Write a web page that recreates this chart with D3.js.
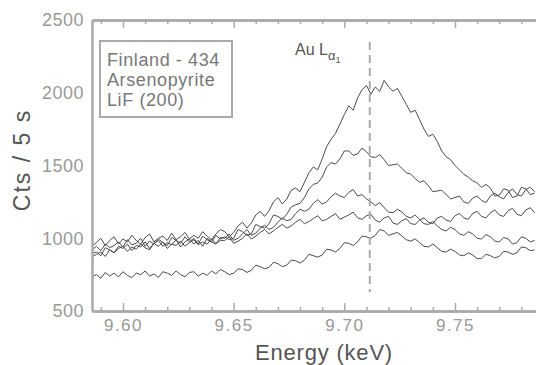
<!DOCTYPE html>
<head>
  <meta charset="utf-8" />
  <script src="https://cdn.jsdelivr.net/npm/d3@7/dist/d3.min.js"></script>
  <style>
    body { margin: 0; background: #fff; }
    svg text { font-family: "Liberation Sans", Arial, sans-serif; }
  </style>
</head>
<body>
  <svg class="chart" width="536" height="365"></svg>
  <script>
    // sampling grid (keV) and the five scans
    const eStart = 9.586;
    const eStep = 0.002;
    const scan1 = [945, 970, 1000, 950, 985, 1010, 960, 995, 975, 1020, 985, 960, 1005, 1030, 975, 1000, 1015, 985, 1035, 990, 1010, 1040, 995, 1020, 1000, 1045, 1015, 990, 1030, 1060, 1045, 1010, 1040, 1085, 1110, 1070, 1105, 1160, 1185, 1150, 1190, 1250, 1280, 1235, 1270, 1330, 1345, 1320, 1385, 1450, 1490, 1470, 1545, 1630, 1680, 1720, 1785, 1850, 1910, 1880, 1965, 2020, 2050, 1990, 2040, 2010, 2085, 2040, 2010, 2030, 1975, 1920, 1865, 1880, 1815, 1750, 1700, 1715, 1665, 1600, 1560, 1540, 1500, 1470, 1440, 1420, 1395, 1380, 1350, 1370, 1345, 1290, 1295, 1340, 1330, 1280, 1290, 1350, 1340, 1300, 1310];
    const scan2 = [920, 945, 915, 960, 935, 950, 975, 940, 990, 955, 965, 1000, 945, 980, 960, 995, 970, 950, 1005, 985, 965, 1010, 975, 1000, 960, 1015, 990, 975, 1020, 995, 1010, 990, 1000, 1060, 1045, 1020, 1030, 1095, 1080, 1070, 1100, 1160, 1150, 1130, 1165, 1215, 1230, 1240, 1280, 1340, 1370, 1380, 1420, 1490, 1520, 1510, 1545, 1600, 1600, 1570, 1580, 1620, 1595, 1560, 1555, 1575, 1540, 1500, 1505, 1510, 1480, 1450, 1440, 1410, 1385, 1395, 1360, 1320, 1325, 1330, 1300, 1270, 1280, 1290, 1250, 1240, 1275, 1290, 1260, 1245, 1290, 1310, 1285, 1270, 1315, 1340, 1300, 1290, 1335, 1350, 1320];
    const scan3 = [895, 905, 880, 935, 920, 900, 945, 930, 960, 915, 950, 940, 975, 930, 965, 985, 945, 970, 955, 990, 940, 975, 995, 960, 985, 945, 1000, 975, 960, 1005, 1000, 1030, 985, 1000, 1030, 1060, 1020, 1035, 1070, 1090, 1060, 1075, 1110, 1140, 1120, 1130, 1170, 1200, 1185, 1200, 1240, 1265, 1235, 1250, 1285, 1310, 1290, 1280, 1315, 1335, 1290, 1300, 1270, 1250, 1225, 1245, 1210, 1180, 1175, 1200, 1180, 1150, 1140, 1160, 1130, 1100, 1095, 1115, 1085, 1060, 1050, 1075, 1060, 1030, 1020, 1045, 1030, 1000, 995, 1025, 1010, 980, 975, 1005, 995, 960, 970, 1010, 1000, 975, 985];
    const scan4 = [870, 890, 905, 875, 920, 900, 930, 945, 910, 940, 925, 960, 935, 920, 965, 945, 975, 930, 960, 950, 980, 945, 970, 990, 955, 975, 960, 995, 965, 985, 985, 1010, 965, 980, 1000, 1030, 995, 1015, 1040, 1060, 1030, 1050, 1075, 1095, 1070, 1085, 1110, 1130, 1100, 1115, 1135, 1155, 1120, 1130, 1150, 1170, 1130, 1145, 1160, 1180, 1140, 1130, 1155, 1165, 1125, 1110, 1140, 1150, 1105, 1095, 1120, 1135, 1100, 1095, 1125, 1140, 1110, 1100, 1140, 1150, 1125, 1115, 1155, 1170, 1140, 1130, 1170, 1185, 1150, 1140, 1175, 1195, 1160, 1150, 1190, 1205, 1165, 1155, 1195, 1210, 1175];
    const scan5 = [735, 750, 725, 765, 740, 760, 735, 770, 745, 730, 760, 750, 775, 740, 755, 730, 770, 760, 745, 775, 750, 735, 765, 770, 740, 760, 745, 775, 755, 785, 770, 750, 760, 790, 785, 765, 780, 815, 805, 790, 800, 835, 825, 805, 815, 850, 845, 830, 850, 890, 880, 870, 885, 925, 920, 905, 930, 970, 965, 950, 975, 1015, 1010, 1000, 1020, 1060, 1050, 1020, 1030, 1040, 1015, 990, 980, 995, 970, 945, 940, 960, 935, 910, 905, 925, 910, 885, 880, 900, 885, 860, 860, 890, 880, 865, 875, 910, 905, 890, 900, 940, 935, 915, 920];
    const scans = [scan5, scan4, scan3, scan2, scan1];

    const xMajor = [9.60, 9.65, 9.70, 9.75];
    const xMinor = [9.59, 9.61, 9.62, 9.63, 9.64, 9.66, 9.67, 9.68, 9.69, 9.71, 9.72, 9.73, 9.74, 9.76, 9.77, 9.78];
    const yTicks = [500, 1000, 1500, 2000, 2500];
    const legendLines = ["Finland - 434", "Arsenopyrite", "LiF (200)"];
    const auLine = 9.7115;

    const svg = d3.select(".chart");
    const x = d3.scaleLinear().domain([9.586, 9.7866]).range([92, 536]);
    const y = d3.scaleLinear().domain([500, 2500]).range([311, 20]);
    const axisColor = "#aaa";
    const font = "Liberation Sans, Arial, sans-serif";

    // spectra
    const line = d3
      .line()
      .x((d, i) => x(eStart + i * eStep))
      .y((d) => y(d));
    svg
      .append("g")
      .selectAll("path")
      .data(scans)
      .enter()
      .append("path")
      .attr("d", line)
      .attr("fill", "none")
      .attr("stroke", "#4a4a4a")
      .attr("stroke-width", 1)
      .attr("stroke-linejoin", "round");

    // dashed Au L-alpha1 marker
    svg
      .append("line")
      .attr("x1", x(auLine))
      .attr("x2", x(auLine))
      .attr("y1", 42)
      .attr("y2", 292)
      .attr("stroke", "#aaa")
      .attr("stroke-width", 2)
      .attr("stroke-dasharray", "8,5");

    const label = svg.append("text").attr("x", 295).attr("y", 55).attr("fill", "#555").attr("font-size", 16);
    label.append("tspan").text("Au L");
    label.append("tspan").attr("dy", 5).attr("font-size", 13).text("\u03b1");
    label.append("tspan").attr("dy", 3).attr("font-size", 9).text("1");

    // axes: bottom and top with inward ticks
    const styleAxis = (g) => {
      g.select(".domain").attr("stroke", axisColor).attr("stroke-width", 2.5);
      g.selectAll(".tick line").attr("stroke", axisColor).attr("stroke-width", 1.5);
    };
    svg
      .append("g")
      .attr("transform", `translate(0,${y(500)})`)
      .call(d3.axisBottom(x).tickValues(xMinor).tickSize(-4).tickFormat("").tickSizeOuter(0))
      .call(styleAxis);
    const bottom = svg
      .append("g")
      .attr("transform", `translate(0,${y(500)})`)
      .call(d3.axisBottom(x).tickValues(xMajor).tickSize(-8).tickPadding(8).tickFormat(d3.format(".2f")).tickSizeOuter(0))
      .call(styleAxis);
    bottom.selectAll(".tick text").attr("font-size", 17).attr("letter-spacing", 1.5).attr("fill", "#999").attr("font-family", font);

    svg
      .append("g")
      .attr("transform", `translate(0,${y(2500)})`)
      .call(d3.axisTop(x).tickValues(xMinor).tickSize(-4).tickFormat("").tickSizeOuter(0))
      .call(styleAxis);
    svg
      .append("g")
      .attr("transform", `translate(0,${y(2500)})`)
      .call(d3.axisTop(x).tickValues(xMajor).tickSize(-8).tickFormat("").tickSizeOuter(0))
      .call(styleAxis);

    const left = svg
      .append("g")
      .attr("transform", `translate(${x(9.586)},0)`)
      .call(d3.axisLeft(y).tickValues(yTicks).tickSize(0).tickPadding(8).tickFormat(d3.format("d")).tickSizeOuter(0))
      .call(styleAxis);
    left.selectAll(".tick text").attr("font-size", 18).attr("letter-spacing", 0.5).attr("fill", "#999").attr("font-family", font);

    // axis titles
    svg
      .append("text")
      .attr("x", 324)
      .attr("y", 360)
      .attr("text-anchor", "middle")
      .attr("font-size", 22)
      .attr("letter-spacing", 0.8)
      .attr("fill", "#555")
      .text("Energy (keV)");
    svg
      .append("text")
      .attr("transform", "translate(30,160) rotate(-90)")
      .attr("text-anchor", "middle")
      .attr("font-size", 23)
      .attr("letter-spacing", 2)
      .attr("fill", "#555")
      .text("Cts / 5 s");

    // legend box
    const legend = svg.append("g");
    legend
      .append("rect")
      .attr("x", 100)
      .attr("y", 41)
      .attr("width", 132)
      .attr("height", 76)
      .attr("fill", "#fff")
      .attr("stroke", "#aaa")
      .attr("stroke-width", 2);
    legend
      .selectAll("text")
      .data(legendLines)
      .enter()
      .append("text")
      .attr("x", 107)
      .attr("y", (d, i) => 66 + i * 20)
      .attr("font-size", 18)
      .attr("letter-spacing", 0.6)
      .attr("fill", "#777")
      .text((d) => d);
  </script>
</body>
